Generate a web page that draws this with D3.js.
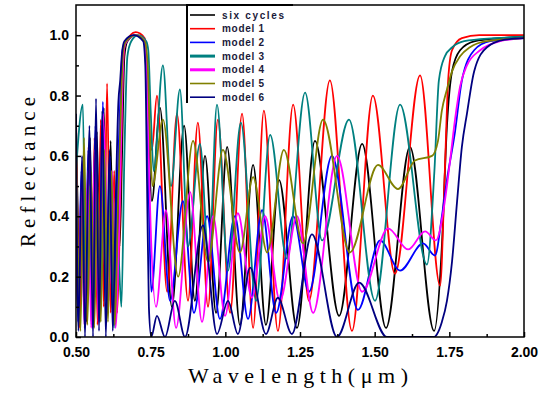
<!DOCTYPE html>
<html>
<head>
<meta charset="utf-8">
<script src="https://cdn.jsdelivr.net/npm/d3@7"></script>
<style>
  body { margin: 0; background: #fff; }
  .tick text { font-family: "Liberation Sans", Arial, sans-serif; font-weight: bold; font-size: 14px; }
</style>
</head>
<body>
<svg id="chart" width="544" height="394"></svg>
<script>
// values: [wavelength (um), reflectance]
const sixCycles = [
  [0.500,0.70],[0.506,0.40],[0.513,0.05],[0.524,0.60],[0.535,0.05],[0.547,0.66],[0.558,0.04],
  [0.570,0.68],[0.581,0.06],[0.593,0.76],[0.605,0.10],[0.616,0.65],[0.627,0.04],[0.638,0.50],
  [0.646,0.30],[0.654,0.60],[0.662,0.93],[0.672,0.98],[0.700,1.00],[0.728,0.98],[0.737,0.88],[0.745,0.60],
  [0.754,0.45],[0.781,0.76],[0.821,0.10],[0.862,0.70],[0.898,0.12],[0.932,0.60],[0.969,0.08],
  [1.006,0.63],[1.049,0.04],[1.093,0.57],[1.136,0.04],[1.180,0.52],[1.240,0.03],[1.300,0.65],
  [1.381,0.07],[1.458,0.64],[1.538,0.03],[1.618,0.63],[1.699,0.02],[1.725,0.30],[1.742,0.70],
  [1.759,0.88],[1.786,0.95],[1.836,0.98],[1.920,0.99],[2.000,0.995]
];
const model1 = [
  [0.500,0.73],[0.506,0.32],[0.512,0.03],[0.522,0.56],[0.532,0.04],[0.542,0.63],[0.552,0.05],
  [0.562,0.66],[0.572,0.04],[0.583,0.72],[0.593,0.10],[0.604,0.84],[0.616,0.08],[0.628,0.55],
  [0.638,0.08],[0.648,0.45],[0.656,0.85],[0.664,0.97],[0.700,1.01],[0.730,0.99],[0.738,0.90],
  [0.746,0.68],[0.754,0.62],[0.771,0.80],[0.805,0.15],[0.838,0.74],[0.875,0.12],[0.908,0.71],
  [0.942,0.10],[0.975,0.72],[1.016,0.08],[1.056,0.74],[1.093,0.03],[1.129,0.75],[1.176,0.02],
  [1.227,0.77],[1.280,0.12],[1.350,0.85],[1.424,0.02],[1.494,0.80],[1.568,0.21],[1.652,0.867],
  [1.719,0.17],[1.735,0.55],[1.746,0.85],[1.759,0.95],[1.792,0.99],[1.850,1.00],[2.000,1.00]
];
const model2 = [
  [0.500,0.40],[0.507,0.05],[0.518,0.55],[0.529,0.03],[0.541,0.62],[0.552,0.04],[0.565,0.70],
  [0.577,0.06],[0.590,0.78],[0.602,0.10],[0.613,0.60],[0.625,0.04],[0.637,0.45],[0.647,0.75],
  [0.656,0.95],[0.668,0.98],[0.698,1.00],[0.728,0.98],[0.736,0.85],[0.744,0.45],[0.752,0.15],[0.781,0.50],
  [0.815,0.12],[0.858,0.45],[0.895,0.08],[0.939,0.40],[0.982,0.06],[1.032,0.40],[1.076,0.06],
  [1.123,0.42],[1.170,0.08],[1.227,0.40],[1.280,0.15],[1.357,0.60],[1.444,0.09],[1.518,0.32],
  [1.585,0.22],[1.662,0.31],[1.702,0.27],[1.725,0.40],[1.742,0.52],[1.769,0.68],[1.792,0.85],
  [1.833,0.95],[1.886,0.98],[2.000,0.99]
];
const model3 = [
  [0.500,0.55],[0.523,0.77],[0.533,0.10],[0.545,0.50],[0.556,0.03],[0.568,0.60],[0.580,0.05],
  [0.592,0.64],[0.603,0.10],[0.615,0.55],[0.627,0.03],[0.640,0.30],[0.652,0.10],[0.662,0.60],
  [0.672,0.93],[0.685,0.98],[0.708,1.00],[0.735,0.98],[0.742,0.95],[0.750,0.75],[0.760,0.55],[0.791,0.90],
  [0.818,0.50],[0.848,0.82],[0.875,0.30],[0.915,0.64],[0.945,0.25],[0.972,0.77],[1.009,0.22],
  [1.052,0.71],[1.103,0.12],[1.150,0.67],[1.206,0.26],[1.267,0.81],[1.324,0.32],[1.414,0.72],
  [1.501,0.12],[1.585,0.77],[1.675,0.24],[1.700,0.55],[1.715,0.85],[1.735,0.93],[1.760,0.96],
  [1.800,0.98],[1.900,0.99],[2.000,0.995]
];
const model4 = [
  [0.500,0.45],[0.508,0.08],[0.518,0.50],[0.528,0.04],[0.540,0.55],[0.551,0.03],[0.563,0.62],
  [0.575,0.05],[0.590,0.74],[0.600,0.50],[0.610,0.12],[0.621,0.55],[0.632,0.03],[0.643,0.30],
  [0.652,0.70],[0.660,0.95],[0.670,0.98],[0.700,1.00],[0.730,0.98],[0.738,0.85],[0.746,0.50],[0.768,0.10],
  [0.801,0.42],[0.835,0.03],[0.882,0.48],[0.922,0.05],[0.959,0.40],[0.999,0.07],[1.042,0.41],
  [1.089,0.13],[1.133,0.40],[1.183,0.12],[1.240,0.40],[1.294,0.08],[1.374,0.60],[1.458,0.15],
  [1.545,0.36],[1.612,0.29],[1.669,0.35],[1.705,0.32],[1.735,0.45],[1.752,0.58],[1.769,0.72],
  [1.786,0.83],[1.809,0.90],[1.853,0.95],[1.920,0.98],[2.000,0.99]
];
const model5 = [
  [0.500,0.67],[0.507,0.25],[0.515,0.02],[0.527,0.66],[0.538,0.04],[0.550,0.55],[0.561,0.03],
  [0.572,0.50],[0.583,0.05],[0.595,0.62],[0.607,0.05],[0.619,0.55],[0.630,0.04],[0.641,0.45],
  [0.650,0.75],[0.658,0.95],[0.668,0.98],[0.700,1.00],[0.730,0.98],[0.740,0.90],[0.748,0.65],[0.756,0.50],
  [0.791,0.72],[0.842,0.20],[0.892,0.65],[0.942,0.25],[0.992,0.62],[1.049,0.28],[1.093,0.53],
  [1.140,0.28],[1.196,0.62],[1.260,0.31],[1.327,0.72],[1.417,0.28],[1.511,0.57],[1.578,0.49],
  [1.635,0.585],[1.692,0.60],[1.712,0.65],[1.725,0.75],[1.742,0.82],[1.759,0.88],[1.786,0.93],
  [1.819,0.96],[1.876,0.98],[2.000,0.99]
];
const model6 = [
  [0.500,0.74],[0.508,0.02],[0.520,0.60],[0.530,0.00],[0.545,0.70],[0.557,0.00],[0.567,0.79],
  [0.577,0.02],[0.588,0.75],[0.600,0.00],[0.612,0.62],[0.623,0.02],[0.633,0.45],[0.642,0.78],
  [0.648,0.85],[0.654,0.94],[0.662,0.98],[0.693,1.00],[0.725,0.98],[0.732,0.90],[0.738,0.50],[0.744,0.10],
  [0.752,0.00],[0.771,0.07],[0.798,0.00],[0.831,0.12],[0.865,0.00],[0.925,0.37],[0.972,0.01],
  [1.009,0.12],[1.042,0.01],[1.083,0.23],[1.136,0.01],[1.176,0.13],[1.223,0.01],[1.290,0.34],
  [1.374,0.00],[1.448,0.18],[1.541,0.00],[1.700,0.00],[1.709,0.01],[1.725,0.05],[1.742,0.12],
  [1.759,0.25],[1.776,0.45],[1.792,0.63],[1.809,0.74],[1.833,0.88],[1.876,0.96],[1.936,0.985],
  [2.000,0.99]
];

const seriesNames = ["six cycles", "model 1", "model 2", "model 3", "model 4", "model 5", "model 6"];
const seriesColors = ["#000000", "#ff0000", "#0000ff", "#008080", "#ff00ff", "#808000", "#000080"];
const seriesData = [sixCycles, model1, model2, model3, model4, model5, model6];

const xTicks = [0.5, 0.75, 1.0, 1.25, 1.5, 1.75, 2.0];
const xMinor = [0.625, 0.875, 1.125, 1.375, 1.625, 1.875];
const yTicks = [0, 0.2, 0.4, 0.6, 0.8, 1.0];
const yMinor = [0.1, 0.3, 0.5, 0.7, 0.9];

const svg = d3.select("#chart");
const plotL = 76, plotR = 524, plotT = 5, plotB = 337;

const x = d3.scaleLinear().domain([0.5, 2.0]).range([plotL, plotR]);
const y = d3.scaleLinear().domain([0, 1.1]).range([plotB, plotT]);

svg.append("clipPath").attr("id", "clip")
  .append("rect").attr("x", plotL).attr("y", plotT).attr("width", plotR - plotL).attr("height", plotB - plotT);

const line = d3.line()
  .x(d => x(d[0]))
  .y(d => y(d[1]))
  .curve(d3.curveMonotoneX);

const plot = svg.append("g").attr("clip-path", "url(#clip)");
seriesData.forEach((s, i) => {
  plot.append("path")
    .datum(s)
    .attr("fill", "none")
    .attr("stroke", seriesColors[i])
    .attr("stroke-width", 1.8)
    .attr("d", line);
});

// axes, ticks inward
svg.append("g").attr("transform", `translate(0,${plotB})`)
  .call(d3.axisBottom(x).tickValues(xTicks).tickSize(-5).tickPadding(10).tickFormat(d3.format(".2f")));
svg.append("g").attr("transform", `translate(0,${plotB})`)
  .call(d3.axisBottom(x).tickValues(xMinor).tickSize(-3).tickFormat(""));
svg.append("g").attr("transform", `translate(${plotL},0)`)
  .call(d3.axisLeft(y).tickValues(yTicks).tickSize(-5).tickPadding(7).tickFormat(d3.format(".1f")));
svg.append("g").attr("transform", `translate(${plotL},0)`)
  .call(d3.axisLeft(y).tickValues(yMinor).tickSize(-3).tickFormat(""));
svg.selectAll(".domain").remove();
svg.selectAll(".tick line").attr("stroke-width", 1.5);

// frame
svg.append("rect")
  .attr("x", plotL).attr("y", plotT)
  .attr("width", plotR - plotL).attr("height", plotB - plotT)
  .attr("fill", "none").attr("stroke", "#000").attr("stroke-width", 1.5);

// legend
const lg = svg.append("g");
lg.append("rect").attr("x", 187).attr("y", plotT).attr("width", 106).attr("height", 98).attr("fill", "#fff");
lg.append("path").attr("d", `M187,103V${plotT}H293`).attr("fill", "none").attr("stroke", "#000").attr("stroke-width", 2);
seriesNames.forEach((name, i) => {
  const yy = 15 + i * 13.7;
  lg.append("line")
    .attr("x1", 190).attr("x2", 215).attr("y1", yy).attr("y2", yy)
    .attr("stroke", seriesColors[i])
    .attr("stroke-width", (i === 3 || i === 4) ? 3 : 1.6);
  lg.append("text")
    .attr("x", 222).attr("y", yy + 3.5)
    .attr("font-family", "Liberation Sans, Arial, sans-serif")
    .attr("font-weight", "bold")
    .attr("font-size", 10)
    .attr("fill", "#1a1a3a")
    .attr("textLength", i === 0 ? 62 : 42)
    .attr("lengthAdjust", "spacing")
    .text(name);
});

// axis titles
svg.append("text")
  .attr("transform", "translate(35,172) rotate(-90)")
  .attr("text-anchor", "middle")
  .attr("font-family", "Liberation Serif, serif")
  .attr("font-size", 21)
  .attr("textLength", 150)
  .attr("lengthAdjust", "spacing")
  .text("Reflectance");

svg.append("text")
  .attr("x", 298).attr("y", 383)
  .attr("text-anchor", "middle")
  .attr("font-family", "Liberation Serif, serif")
  .attr("font-size", 22)
  .attr("textLength", 220)
  .attr("lengthAdjust", "spacing")
  .text("Wavelength(μm)");
</script>
</body>
</html>
